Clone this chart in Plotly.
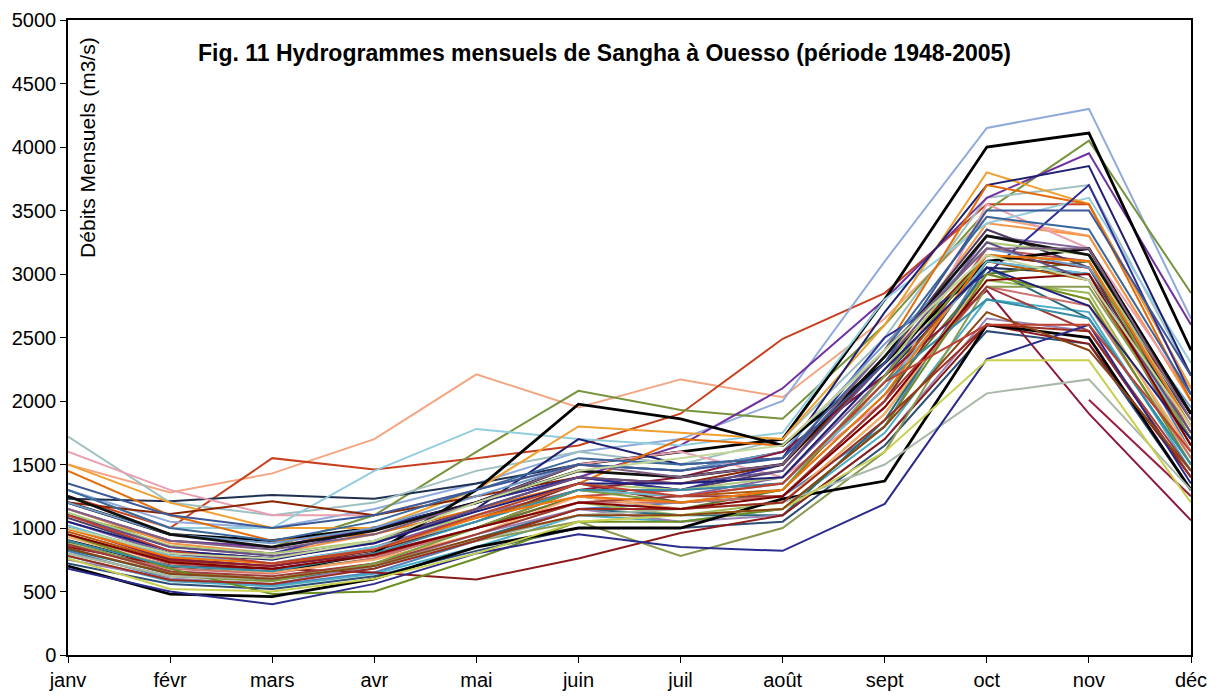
import plotly.graph_objects as go

# --- Débits mensuels de la Sangha à Ouesso, 1948-2005 (m3/s) ---

mois = ["janv", "févr", "mars", "avr", "mai", "juin", "juil", "août", "sept", "oct", "nov", "déc"]

annees = list(range(1948, 2006))

# one row per year, janv -> déc (None = pas de mesure)
q_1940s = [
    [None, None, None, None, None, None, None, None, None, None, 2010, 1250],
    [1500, 1280, 1430, 1700, 2210, 1950, 2170, 2030, 2650, 3450, 3300, 2000],
]
q_1950s = [
    [1250, 1000, 1550, 1460, 1550, 1650, 1900, 2490, 2850, 3550, 3550, 2100],
    [820, 600, 550, 650, 900, 1150, 1200, 1250, 1800, 3100, 3000, 1600],
    [1300, 1050, 1000, 1150, 1350, 1600, 1700, 2000, 3100, 4150, 4300, 2650],
    [950, 720, 680, 780, 1000, 1250, 1300, 1350, 2100, 3200, 3100, 1750],
    [1100, 900, 850, 1100, 1600, 2080, 1930, 1860, 2600, 3500, 4050, 2850],
    [880, 650, 600, 700, 950, 1200, 1100, 1200, 1900, 2950, 2850, 1550],
    [1230, 1210, 1260, 1230, 1350, 1500, 1450, 1600, 2200, 3050, 3000, 1800],
    [1050, 800, 720, 850, 1100, 1300, 1250, 1400, 2200, 3300, 3200, 1900],
    [1720, 1200, 1100, 1200, 1450, 1600, 1500, 1700, 2500, 3600, 3700, 2200],
    [780, 580, 540, 640, 850, 1100, 1050, 1150, 1750, 2800, 2700, 1450],
]
q_1960s = [
    [1150, 900, 850, 1000, 1200, 1400, 1650, 2100, 2800, 3600, 3950, 2600],
    [1150, 880, 800, 950, 1200, 1450, 1400, 1500, 2300, 3400, 3300, 2000],
    [1200, 950, 900, 1000, 1200, 1500, 1600, 1700, 2800, 4000, 4110, 2400],
    [1600, 1300, 1100, 1100, 1300, 1500, 1600, 1400, 2000, 3550, 3200, 2050],
    [720, 560, 520, 620, 820, 1000, 1000, 1050, 1650, 2550, 2450, 1300],
    [1300, 1000, 1000, 1450, 1780, 1700, 1650, 1750, 2800, 3400, 3600, 2300],
    [1000, 760, 700, 820, 1050, 1350, 1200, 1250, 2000, 3150, 3050, 1700],
    [1500, 1200, 1000, 1000, 1300, 1800, 1750, 1700, 2600, 3800, 3550, 2100],
    [900, 700, 650, 760, 1000, 1250, 1150, 1300, 2050, 3000, 3100, 1800],
    [1000, 800, 750, 900, 1150, 1700, 1500, 1550, 2700, 3700, 3850, 2200],
]
q_1970s = [
    [1080, 820, 760, 900, 1150, 1400, 1300, 1450, 2350, 3350, 3050, 1850],
    [1450, 1100, 900, 950, 1150, 1350, 1700, 1650, 2400, 3700, 3550, 2000],
    [830, 640, 590, 680, 920, 1150, 1100, 1100, 1850, 3050, 2650, 1500],
    [1200, 1110, 1210, 1100, 1250, 1400, 1350, 1500, 2300, 3150, 3050, 1900],
    [970, 740, 700, 830, 1080, 1300, 1250, 1300, 2150, 3100, 2950, 1650],
    [1100, 850, 800, 1000, 1200, 1400, 1300, 1500, 2500, 3000, 3700, 2050],
    [1200, 950, 880, 1000, 1250, 1500, 1450, 1600, 2450, 3200, 3050, 1950],
    [900, 700, 650, 800, 1300, 1975, 1860, 1650, 2300, 3100, 3200, 1900],
    [860, 680, 640, 760, 1000, 1200, 1200, 1250, 1950, 2900, 2750, 1550],
    [1120, 860, 800, 900, 1100, 1350, 1300, 1400, 2250, 3250, 3150, 1800],
]
q_1980s = [
    [1000, 750, 700, 800, 1000, 1300, 1400, 1600, 2200, 2870, 1900, 1060],
    [750, 600, 560, 700, 950, 1150, 1050, 1100, 1700, 2650, 2550, 1400],
    [1020, 780, 720, 850, 1050, 1300, 1250, 1350, 2100, 3100, 3000, 1700],
    [850, 700, 680, 650, 595, 760, 960, 1100, 1700, 2600, 2450, 1400],
    [930, 700, 650, 750, 950, 1250, 1150, 1200, 1900, 3000, 2800, 1600],
    [1300, 1000, 900, 1050, 1300, 1550, 1500, 1550, 2400, 3450, 3350, 2050],
    [900, 650, 600, 720, 900, 1050, 780, 1000, 1600, 2900, 2900, 1700],
    [870, 660, 620, 720, 950, 1200, 1250, 1250, 2000, 2900, 2550, 1450],
    [800, 620, 580, 720, 1000, 1300, 1200, 1300, 2200, 3150, 3100, 1700],
    [950, 680, 480, 500, 760, 1050, 1050, 1150, 1800, 3000, 2800, 1500],
]
q_1990s = [
    [1100, 850, 780, 880, 1150, 1400, 1350, 1450, 2300, 3250, 2950, 1750],
    [900, 700, 660, 800, 1050, 1300, 1300, 1350, 2150, 2800, 2650, 1500],
    [700, 480, 460, 600, 850, 1000, 1000, 1230, 1370, 2600, 2500, 1300],
    [990, 770, 720, 830, 1080, 1250, 1200, 1300, 2050, 3150, 3100, 1800],
    [1250, 950, 850, 980, 1200, 1450, 1400, 1500, 2350, 3300, 3150, 1900],
    [800, 620, 600, 700, 900, 1100, 1150, 1200, 1500, 2060, 2170, 1300],
    [780, 590, 560, 680, 900, 1150, 1150, 1200, 1850, 2600, 2550, 1400],
    [1050, 820, 760, 880, 1130, 1350, 1350, 1400, 2250, 3050, 2750, 1700],
    [680, 500, 400, 560, 800, 950, 850, 820, 1190, 2330, 2600, 1350],
    [950, 730, 680, 790, 1000, 1200, 1150, 1250, 1950, 2950, 3000, 1650],
]
q_2000s = [
    [1150, 900, 830, 950, 1200, 1500, 1400, 1500, 2400, 3200, 3200, 1850],
    [760, 520, 500, 600, 800, 1050, 1100, 1150, 1600, 2320, 2320, 1200],
    [840, 640, 600, 700, 920, 1100, 1100, 1150, 1800, 2700, 2400, 1450],
    [1350, 1100, 1000, 1100, 1300, 1500, 1450, 1550, 2300, 3500, 3500, 2200],
    [1100, 820, 720, 830, 1100, 1350, 1250, 1350, 2150, 2600, 2600, 1600],
    [1000, 800, 760, 900, 1200, 1450, 1550, 1650, 2400, 3150, 2950, 1800],
]

debits = q_1940s + q_1950s + q_1960s + q_1970s + q_1980s + q_1990s + q_2000s

couleurs = [
    "#9b2040", "#f4a582",
    "#c8401e", "#4f81bd", "#8faadc", "#c0504d", "#77933c", "#9bbb59", "#1f3050", "#8064a2", "#9fc0c0", "#4bacc6",
    "#7030a0", "#f79646", "#000000", "#e8a0b0", "#2c4d75", "#93cddd", "#772c2a", "#f0a030", "#5f7530", "#1f1f70",
    "#4d3b62", "#e36c09", "#276a7c", "#8b2500", "#b65708", "#2e2e9a", "#729aca", "#000000", "#cd7371", "#afc97a",
    "#8b1a3a", "#9983b5", "#6fbdd3", "#8b1a1a", "#f9ab6b", "#3a679c", "#8a9a50", "#9f3b38", "#7e9d40", "#6b8e23",
    "#664f83", "#358ea6", "#000000", "#f3740b", "#111111", "#a9b8a8", "#9b2d1f", "#1f1f7a", "#2b2b8c", "#800000",
    "#7f6084", "#c8d050", "#8b4513", "#3b5998", "#c04030", "#c3d69b",
]

fig = go.Figure()

for annee, q, c in zip(annees, debits, couleurs):
    w = 2.8 if c in ("#000000", "#111111") else 2
    fig.add_trace(go.Scatter(x=mois, y=q, mode="lines", name=str(annee),
                             line=dict(color=c, width=w), connectgaps=False))

# the page body adds an 8px margin, so the figure is a bit smaller than the window
fig.update_layout(
    width=1210, height=683,
    margin=dict(l=60, r=27, t=12, b=36, autoexpand=False),
    paper_bgcolor="white", plot_bgcolor="white",
    showlegend=False,
    font=dict(family="Liberation Sans, Arial, sans-serif", size=20, color="black"),
)

fig.update_xaxes(range=[0, 11], showline=True, linecolor="black", linewidth=1.5, mirror=True,
                 ticks="outside", ticklen=6, tickcolor="black", showgrid=False, zeroline=False,
                 tickfont=dict(size=20), automargin=False, ticklabeloverflow="allow")
fig.update_yaxes(range=[0, 5000], dtick=500, showline=True, linecolor="black", linewidth=1.5, mirror=True,
                 ticks="outside", ticklen=6, tickcolor="black", showgrid=False, zeroline=False,
                 tickfont=dict(size=20), automargin=False, ticklabeloverflow="allow")

# Titre dans la zone de tracé
fig.add_annotation(text="<b>Fig. 11 Hydrogrammes mensuels de Sangha à Ouesso (période 1948-2005)</b>",
                   xref="paper", yref="paper", x=0.478, y=0.948, xanchor="center", yanchor="middle",
                   showarrow=False, font=dict(size=23))
fig.add_annotation(text="Débits Mensuels (m3/s)", textangle=-90,
                   xref="paper", yref="paper", x=0.0177, y=0.80, xanchor="center", yanchor="middle",
                   showarrow=False, font=dict(size=21))

fig.write_html("out.html")
